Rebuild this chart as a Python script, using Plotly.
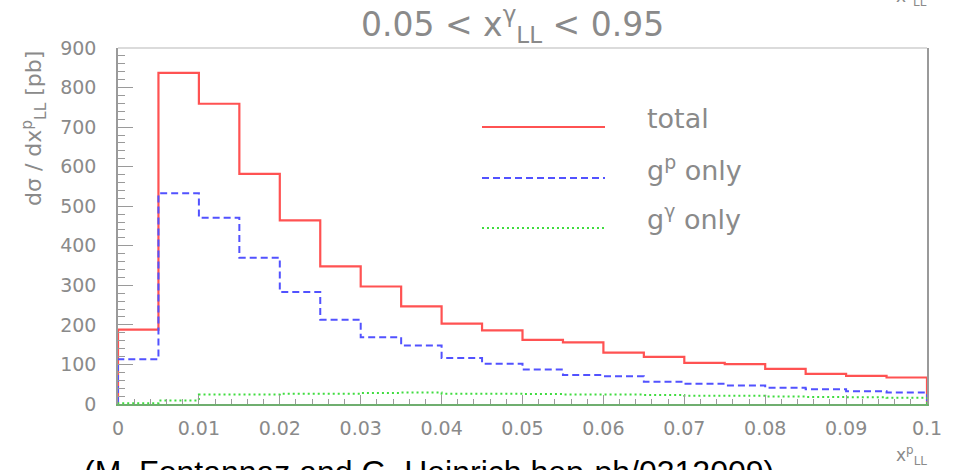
import plotly.graph_objects as go

# Bin edges of x_LL^p (width 0.005) and the differential cross sections in pb
bin_edges = [round(0.005 * i, 3) for i in range(21)]
total = [188, 837, 759, 582, 464, 348, 297, 247, 203, 186,
         162, 156, 130, 119, 104, 101, 89, 76, 71, 67]
gp_only = [113, 533, 471, 370, 283, 213, 169, 148, 116, 102,
           87, 73, 70, 56, 51, 47, 41, 37, 32, 29]
ggamma_only = [2, 9, 24, 24, 26, 26, 28, 29, 26, 26,
               25, 24, 24, 23, 21, 21, 19, 18, 17, 16]

x_ticks = [0, 0.01, 0.02, 0.03, 0.04, 0.05, 0.06, 0.07, 0.08, 0.09, 0.1]
x_ticktext = ["0", "0.01", "0.02", "0.03", "0.04", "0.05", "0.06", "0.07", "0.08", "0.09", "0.1"]

W, H = 954, 470
ML, MR, MT, MB = 118, 27, 48, 66
FONT = "DejaVu Sans"
GREY = "#8a8a8a"


def fx(px):
    return (px - ML) / (W - ML - MR)


def fy(py):
    return (H - MB - py) / (H - MT - MB)


def outline(values):
    """Histogram outline: rise from zero at the first edge, drop to zero at the last."""
    xs = [bin_edges[0]] + bin_edges[:-1] + [bin_edges[-1]]
    ys = [0] + list(values) + [0]
    return xs, ys


fig = go.Figure()
series = [
    ("total", total, dict(color="#ff5252", width=2.2, dash="solid")),
    ("g^p only", gp_only, dict(color="#5252ff", width=2, dash="7px,4px")),
    ("g^gamma only", ggamma_only, dict(color="#3fdc3f", width=2, dash="2px,3px")),
]
for name, vals, line in series:
    xs, ys = outline(vals)
    fig.add_trace(go.Scatter(x=xs, y=ys, mode="lines", name=name, line_shape="hv",
                             line=line, cliponaxis=False, showlegend=False,
                             hoverinfo="skip"))

shapes = [
    # top frame line
    dict(type="line", xref="paper", yref="paper", x0=0, x1=1, y0=1, y1=1,
         line=dict(color="#cfcfcf", width=1.5)),
    # legend samples
    dict(type="line", xref="paper", yref="paper", x0=fx(482), x1=fx(605), y0=fy(127), y1=fy(127),
         line=dict(color="#ff5252", width=2.2)),
    dict(type="line", xref="paper", yref="paper", x0=fx(482), x1=fx(605), y0=fy(178), y1=fy(178),
         line=dict(color="#5252ff", width=2, dash="7px,4px")),
    dict(type="line", xref="paper", yref="paper", x0=fx(482), x1=fx(605), y0=fy(228), y1=fy(228),
         line=dict(color="#3fdc3f", width=2, dash="2px,3px")),
]

ann = []
ann.append(dict(text="0.05 &lt; x<sup>γ</sup><sub>LL</sub> &lt; 0.95", xref="paper", yref="paper",
                x=fx(512), y=fy(25), xanchor="center", yanchor="middle", showarrow=False,
                font=dict(family=FONT, size=33, color=GREY)))
ann.append(dict(text="dσ / dx<sup>p</sup><sub>LL</sub> [pb]", xref="paper", yref="paper",
                x=fx(34), y=fy(129), xanchor="center", yanchor="middle", textangle=-90,
                showarrow=False, font=dict(family=FONT, size=22, color=GREY)))
for label, py in [("total", 118), ("g<sup>p</sup> only", 168), ("g<sup>γ</sup> only", 218)]:
    ann.append(dict(text=label, xref="paper", yref="paper", x=fx(645), y=fy(py),
                    xanchor="left", yanchor="middle", showarrow=False,
                    font=dict(family=FONT, size=27, color=GREY)))
ann.append(dict(text="x<sup>p</sup><sub>LL</sub>", xref="paper", yref="paper",
                x=fx(929), y=fy(456), xanchor="right", yanchor="middle", showarrow=False,
                font=dict(family=FONT, size=17, color=GREY)))
ann.append(dict(text="x<sup>γ</sup><sub>LL</sub>", xref="paper", yref="paper",
                x=fx(929), y=fy(-3), xanchor="right", yanchor="middle", showarrow=False,
                font=dict(family=FONT, size=17, color=GREY)))
ann.append(dict(text="(M. Fontannaz and G. Heinrich hep-ph/0312009)", xref="paper", yref="paper",
                x=fx(82), y=fy(452), xanchor="left", yanchor="top", showarrow=False,
                font=dict(family="Liberation Sans", size=32, color="#000000")))

fig.update_layout(
    width=W, height=H,
    margin=dict(l=ML, r=MR, t=MT, b=MB, pad=0),
    paper_bgcolor="white", plot_bgcolor="white",
    shapes=shapes, annotations=ann,
    xaxis=dict(range=[0, 0.1], tickvals=x_ticks, ticktext=x_ticktext,
               ticks="inside", ticklen=9, tickcolor="#9a9a9a", tickwidth=1,
               minor=dict(dtick=0.002, ticks="inside", ticklen=5, tickcolor="#9a9a9a"),
               showline=True, linecolor="#6fae6f", linewidth=1.5,
               showgrid=False, zeroline=False, ticklabelstandoff=6,
               tickfont=dict(family=FONT, size=19, color=GREY)),
    yaxis=dict(range=[0, 900], dtick=100, tick0=0,
               ticks="inside", ticklen=15, tickcolor="#9a9a9a", tickwidth=1,
               minor=dict(dtick=20, ticks="inside", ticklen=7, tickcolor="#9a9a9a"),
               showline=True, linecolor="#9a9a9a", linewidth=1.5, mirror=True,
               showgrid=False, zeroline=False, ticklabelstandoff=16,
               tickfont=dict(family=FONT, size=19, color=GREY)),
)

fig.write_html("out.html")
